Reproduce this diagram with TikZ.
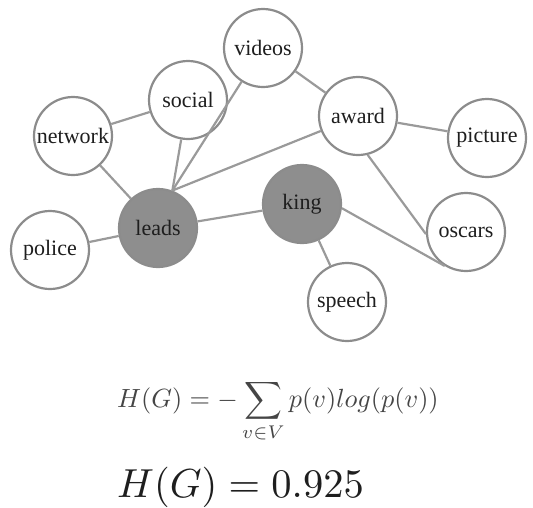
\documentclass[tikz,border=0pt]{standalone}
\usepackage{amsmath,amssymb}
\usepackage[no-math]{fontspec}
\usepackage{xcolor}
\usepackage{tikz}
\usetikzlibrary{positioning}
\setmainfont{Liberation Serif}
\definecolor{rim}{HTML}{8C8C8C}
\definecolor{edgegray}{HTML}{9A9A9A}
\definecolor{hub}{HTML}{8E8E8E}
\definecolor{ink}{HTML}{1E1E1E}
\definecolor{inklight}{HTML}{454545}

\begin{document}
\begin{tikzpicture}[
    x=1pt, y=-1pt,
    font=\fontsize{22}{24}\selectfont,
    word/.style={circle, draw=rim, line width=2.2pt, fill=#1,
        minimum size=78pt, inner sep=0pt, text=ink},
    word/.default=white,
    link/.style={draw=edgegray, line width=2.2pt},
    formula/.style={anchor=base west, inner sep=0pt, font=\fontsize{10}{12}\selectfont},
]
\useasboundingbox (0,0) rectangle (533,507);
\node[word]      (videos)  at (263, 48)  {videos};
\node[word]      (social)  at (188, 100) {social};
\node[word]      (network) at (73, 136)  {network};
\node[word]      (award)   at (358, 116) {award};
\node[word]      (picture) at (487, 138) {picture};
\node[word=hub]  (leads)   at (158, 228) {leads};
\node[word=hub]  (king)    at (302, 204) {king};
\node[word]      (oscars)  at (466, 232) {oscars};
\node[word]      (police)  at (50, 250)  {police};
\node[word]      (speech)  at (347, 302) {speech};
%% Links
\draw[link] (network) -- (social);
\draw[link] (network) -- (leads);
\draw[link] (police) -- (leads);
\draw[link] (social) -- (leads.69);
\draw[link] (videos) -- (leads.69);
\draw[link] (award) -- (leads.69);
\draw[link] (videos) -- (award);
\draw[link] (award) -- (picture);
\draw[link] (award.284) -- (oscars.183);
\draw[link] (leads) -- (king);
\draw[link] (king.-6) -- (oscars.238);
\draw[link] (king) -- (speech);
%% Entropy
\node[formula, text=inklight] (entropy) at (117, 407)
    {\scalebox{2.63}{$\displaystyle H(G) = -\sum_{v\in V} p(v)log(p(v))$}};
\node[formula, text=ink] (value) at (117, 497)
    {\scalebox{4.05}{$H(G) = 0.925$}};
\end{tikzpicture}
\end{document}
